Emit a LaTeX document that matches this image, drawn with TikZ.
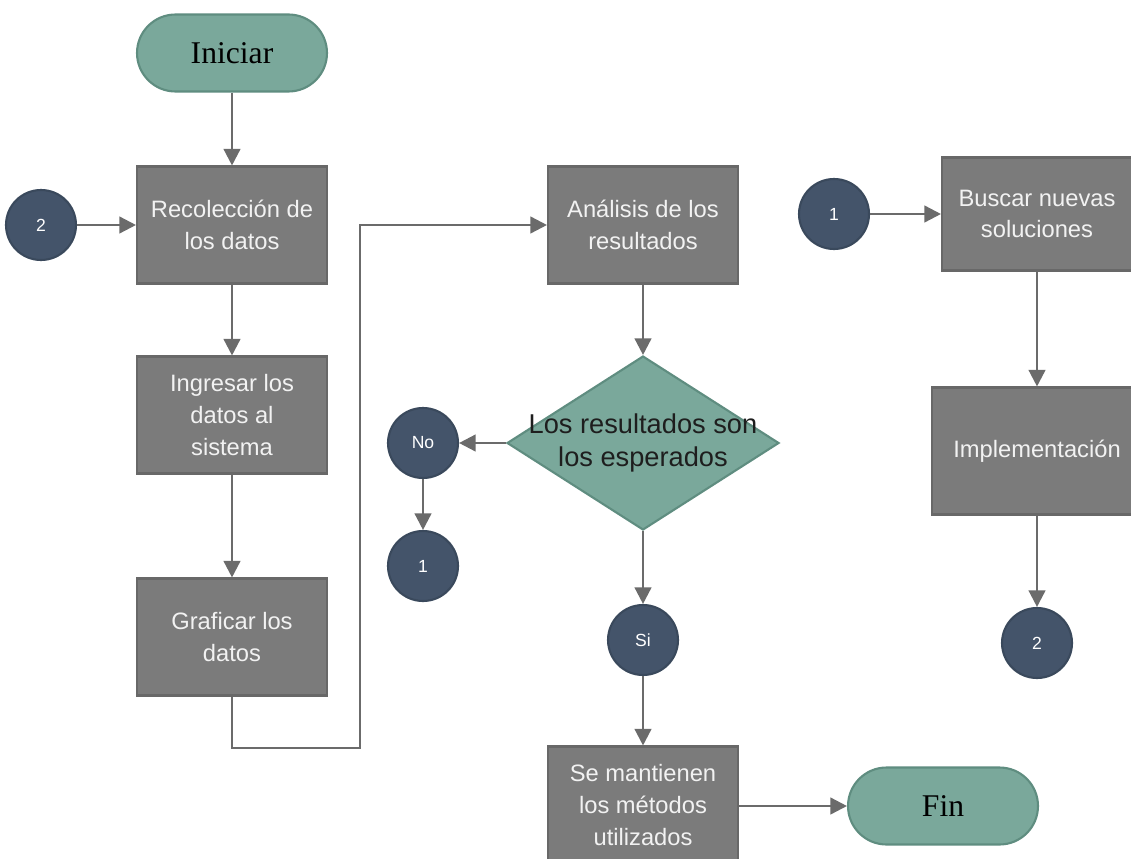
\documentclass[tikz,border=0pt]{standalone}
\usepackage{fontspec}
\usetikzlibrary{shapes.geometric,arrows.meta}
\newfontfamily\boxfont{Liberation Sans}
\newfontfamily\termfont{Liberation Serif}
\definecolor{boxgrey}{HTML}{7B7B7B}
\definecolor{boxedge}{HTML}{686868}
\definecolor{termgreen}{HTML}{7AA89B}
\definecolor{termedge}{HTML}{5F8D80}
\definecolor{linkblue}{HTML}{44546A}
\definecolor{linkedge}{HTML}{3A495C}
\definecolor{flowline}{HTML}{6B6B6B}
\definecolor{boxtext}{HTML}{F2F2F2}
\definecolor{decisiontext}{HTML}{1E1E1E}
\tikzset{
  process/.style={draw=boxedge, line width=1.2pt, fill=boxgrey, text=boxtext,
    minimum width=3.8cm, minimum height=2.34cm, inner sep=2pt, align=center,
    font=\boxfont\fontsize{13.5}{18}\selectfont},
  terminal/.style={draw=termedge, line width=1.2pt, fill=termgreen,
    rounded corners=0.77cm, minimum width=3.8cm, minimum height=1.54cm,
    font=\termfont\fontsize{18}{22}\selectfont},
  connector/.style={circle, draw=linkedge, line width=1.2pt, fill=linkblue,
    text=white, minimum size=1.4cm, inner sep=0pt,
    font=\boxfont\fontsize{10}{12}\selectfont},
  decision/.style={diamond, draw=termedge, line width=1.2pt, fill=termgreen,
    minimum width=5.44cm, minimum height=3.48cm, inner sep=0pt},
  flow/.style={draw=flowline, line width=1.4pt,
    -{Triangle[length=9.5pt,width=9.5pt]}}
}
\begin{document}
\begin{tikzpicture}[x=0.02cm, y=-0.02cm]
  \useasboundingbox (0,0) rectangle (1131,858);
  \clip (0,0) rectangle (1131,858);
  \fill[white] (0,0) rectangle (1131,858);

  % left column
  \node[terminal] (start) at (232,53) {Iniciar};
  \node[process] (collect) at (232,225) {Recolección de\\los datos};
  \node[connector] (inTwo) at (41,225) {2};
  \node[process] (enter) at (232,415) {Ingresar los\\datos al\\sistema};
  \node[process] (plot) at (232,637) {Graficar los\\datos};

  % middle column
  \node[process] (analyse) at (643,225) {Análisis de los\\resultados};
  \node[decision, label={[align=center, text=decisiontext,
      font=\boxfont\fontsize{15.5}{19}\selectfont]center:Los resultados son\\los esperados}]
      (check) at (643,443) {};
  \node[connector] (no) at (423,443) {No};
  \node[connector] (outOne) at (423,566) {1};
  \node[connector] (yes) at (643,640) {Si};
  \node[process] (keep) at (643,805) {Se mantienen\\los métodos\\utilizados};
  \node[terminal] (finish) at (943,806) {Fin};

  % right column
  \node[connector] (inOne) at (834,214) {1};
  \node[process, minimum height=2.26cm] (search) at (1037,214) {Buscar nuevas\\soluciones};
  \node[process, minimum width=4.2cm, minimum height=2.54cm] (deploy) at (1037,451) {Implementación};
  \node[connector] (outTwo) at (1037,643) {2};

  % connectors
  \draw[flow] (start) -- (collect);
  \draw[flow] (inTwo) -- (collect);
  \draw[flow] (collect) -- (enter);
  \draw[flow] (enter) -- (plot);
  \coordinate (bendA) at (232,748);
  \coordinate (bendB) at (360,748);
  \coordinate (bendC) at (360,225);
  \draw[flow] (plot.south) -- (bendA) -- (bendB) -- (bendC) -- (analyse.west);
  \draw[flow] (analyse) -- (check);
  \draw[flow] (check.west) -- (no);
  \draw[flow] (no) -- (outOne);
  \draw[flow] (check.south) -- (yes);
  \draw[flow] (yes) -- (keep);
  \draw[flow] (keep.east |- finish.west) -- (finish.west);
  \draw[flow] (inOne) -- (search);
  \draw[flow] (search) -- (deploy);
  \draw[flow] (deploy) -- (outTwo);
\end{tikzpicture}
\end{document}
